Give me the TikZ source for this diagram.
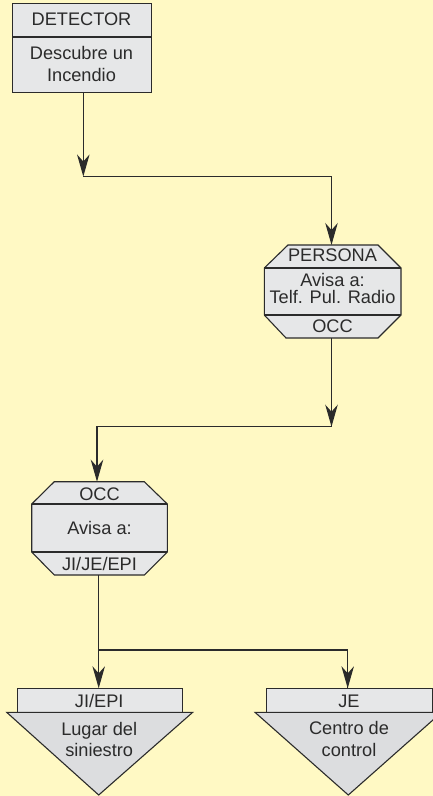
\documentclass[tikz,border=0pt]{standalone}
\usepackage{fontspec}
\setmainfont{Liberation Sans}
\usetikzlibrary{arrows.meta}
\definecolor{bg}{HTML}{FFF9C4}
\definecolor{boxfill}{HTML}{E6E7E8}
\definecolor{trifill}{HTML}{DCDDDF}
\definecolor{ink}{HTML}{2B2B2B}

\begin{document}
\begin{tikzpicture}[x=1pt,y=-1pt,
  shapeline/.style={draw=ink, line width=1.1pt, fill=boxfill},
  trishape/.style={draw=ink, line width=1.1pt, fill=trifill},
  divider/.style={draw=ink, line width=1.1pt},
  txt/.style={anchor=base, inner sep=0pt, font=\fontsize{18.2}{21.7}\selectfont, text=ink},
  conn/.style={draw=ink, line width=1.2pt},
  tip/.style={-{Stealth[length=22pt,width=12.5pt,inset=7pt]}}]

% page and background
\fill[bg] (0,0) rectangle (433,796);
\useasboundingbox (0,0) rectangle (433,796);

% DETECTOR box
\node[shapeline, inner sep=0pt, minimum width=138.4pt, minimum height=89pt,
      anchor=north west] (detector) at (12.3,3.3) {};
\draw[divider] (12.3,37) -- (150.7,37);
\node[txt] (detT) at (81.5,25.7) {DETECTOR};
\node[txt] (detA) at (81.5,59.3) {Descubre un};
\node[txt] (detB) at (81.5,81) {Incendio};

% PERSONA octagon
\coordinate (personaN) at (331.5,245);
\coordinate (personaS) at (331.5,338);
\draw[shapeline] (288,245) -- (378,245) -- (401,268) -- (401,315) -- (378,338)
  -- (286,338) -- (264.3,315) -- (264.3,268) -- cycle;
\draw[divider] (264.3,268) -- (401,268);
\draw[divider] (264.3,315) -- (401,315);
\node[txt] (perT) at (332.5,261.7) {PERSONA};
\node[txt] (perA) at (332.5,286) {Avisa a:};
\node[txt] (perB) at (332.5,303.3) {Telf. Pul. Radio};
\node[txt] (perC) at (332.5,332.3) {OCC};

% OCC octagon
\coordinate (occN) at (97,481.7);
\coordinate (occS) at (98.7,575);
\draw[shapeline] (54.3,481.7) -- (144.3,481.7) -- (167.3,504) -- (167.3,552)
  -- (144.3,575) -- (54.3,575) -- (31.7,552) -- (31.7,504) -- cycle;
\draw[divider] (31.7,504) -- (167.3,504);
\draw[divider] (31.7,552) -- (167.3,552);
\node[txt] (occT) at (99.5,500) {OCC};
\node[txt] (occA) at (99.5,534.3) {Avisa a:};
\node[txt] (occB) at (99.5,570) {JI/JE/EPI};

% JI/EPI: tab and downward triangle
\node[shapeline, inner sep=0pt, minimum width=165pt, minimum height=24pt,
      anchor=north west] (jiepi) at (16.7,688.3) {};
\draw[trishape] (6.7,712.3) -- (192.7,712.3) -- (98.7,795) -- cycle;
\node[txt] (jiT) at (99.2,707.3) {JI/EPI};
\node[txt] (jiA) at (99.2,735) {Lugar del};
\node[txt] (jiB) at (99.2,756.7) {siniestro};

% JE: tab and downward triangle
\node[shapeline, inner sep=0pt, minimum width=166pt, minimum height=24pt,
      anchor=north west] (je) at (266,688.3) {};
\draw[trishape] (255,712.3) -- (441.6,712.3) -- (348.3,795) -- cycle;
\node[txt] (jeT) at (349,707.3) {JE};
\node[txt] (jeA) at (349,734.5) {Centro de};
\node[txt] (jeB) at (349,756.7) {control};

% connectors
\coordinate (j1) at (83.3,176.5);
\coordinate (j2) at (331.5,426.7);
\coordinate (j3) at (98.7,650);
\coordinate (jeN) at (347.7,688.3);
\draw[conn, tip] (detector.south -| j1) -- (j1);
\draw[conn, tip] (j1) -| (personaN);
\draw[conn, tip] (personaS) -- (j2);
\draw[conn, tip] (j2) -| (occN);
\draw[conn, tip] (occS) -- (jiepi.north -| occS);
\draw[conn] (j3) -| (jeN);
\draw[conn, tip] (j3 -| jeN) -- (jeN);
\end{tikzpicture}
\end{document}
